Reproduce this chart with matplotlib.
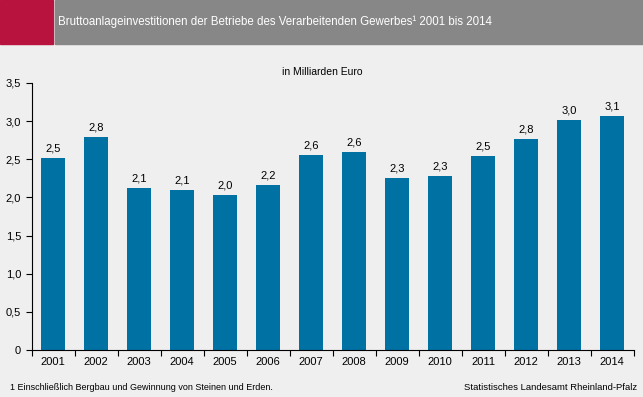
import matplotlib.pyplot as plt
from matplotlib.patches import Rectangle

plt.rcParams['font.family'] = ['Liberation Sans', 'DejaVu Sans']

# Daten
jahre = ['2001', '2002', '2003', '2004', '2005', '2006', '2007',
         '2008', '2009', '2010', '2011', '2012', '2013', '2014']
werte = [2.52, 2.79, 2.12, 2.10, 2.03, 2.16, 2.56,
         2.60, 2.26, 2.28, 2.54, 2.76, 3.01, 3.07]
y_ticks = [0, 0.5, 1.0, 1.5, 2.0, 2.5, 3.0, 3.5]
y_labels = ['0', '0,5', '1,0', '1,5', '2,0', '2,5', '3,0', '3,5']

bg = '#eeefee'
bar_color = '#0071a3'

fig = plt.figure(figsize=(6.43, 3.97), dpi=100, facecolor=bg)

# Kopfzeile
fig.patches.append(Rectangle((0, 1 - 44 / 397), 53 / 643, 44 / 397,
                             transform=fig.transFigure, color='#b8133f', zorder=0))
fig.patches.append(Rectangle((55 / 643, 1 - 44 / 397), 1 - 55 / 643, 44 / 397,
                             transform=fig.transFigure, color='#878787', zorder=0))
fig.text(58 / 643, 1 - 22 / 397,
         'Bruttoanlageinvestitionen der Betriebe des Verarbeitenden Gewerbes\u00b9 2001 bis 2014',
         color='white', fontsize=8.3, va='center', ha='left')

fig.text(322 / 643, 1 - 72 / 397, 'in Milliarden Euro', fontsize=7.5,
         ha='center', va='center')

ax = fig.add_axes([31.5 / 643, 47 / 397, 602 / 643, 267 / 397])
ax.set_facecolor(bg)
x = range(len(jahre))
ax.bar(x, werte, width=0.58, color=bar_color, zorder=2)

for xi, v in zip(x, werte):
    ax.text(xi, v + 0.06, f'{v:.1f}'.replace('.', ','), ha='center',
            va='bottom', fontsize=8)

ax.set_xlim(-0.5, 13.5)
ax.set_ylim(0, 3.5)
ax.set_yticks(y_ticks)
ax.set_yticklabels(y_labels, fontsize=8)
ax.set_xticks([i + 0.5 for i in range(-1, 14)])
ax.set_xticklabels([])
ax.set_xticks(list(x), minor=True)
ax.set_xticklabels(jahre, minor=True, fontsize=8)
ax.tick_params(axis='x', which='minor', length=0, pad=5)
ax.tick_params(axis='x', which='major', length=4, direction='out')
ax.tick_params(axis='y', length=4, direction='out')
for s in ['top', 'right']:
    ax.spines[s].set_visible(False)

fig.text(10 / 643, 1 - 387 / 397,
         '1 Einschließlich Bergbau und Gewinnung von Steinen und Erden.',
         fontsize=6.5, va='center', ha='left')
fig.text(637 / 643, 1 - 387 / 397, 'Statistisches Landesamt Rheinland-Pfalz',
         fontsize=6.8, va='center', ha='right')

fig.savefig('out.png', dpi=100, facecolor=bg)
